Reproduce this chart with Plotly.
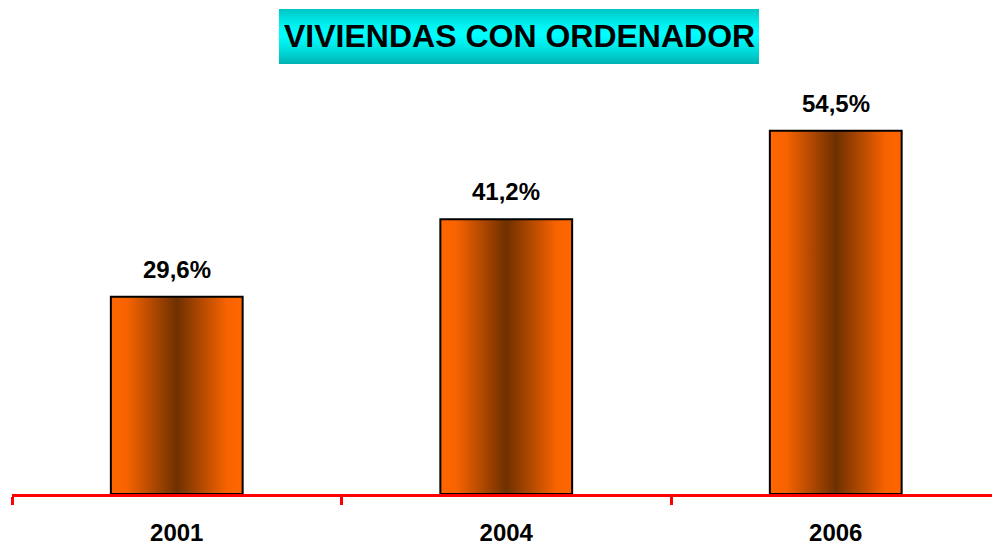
import plotly.graph_objects as go

# ---- data ----
years = ["2001", "2004", "2006"]
values = [29.6, 41.2, 54.5]
title_text = "VIVIENDAS CON ORDENADOR"

W, H = 992, 544
ML, MR, MT, MB = 12, 0, 94, 50
PW, PH = W - ML - MR, H - MT - MB
CAT_PX = 329.5
bar_w = 0.4
x_max = PW / CAT_PX - 0.5
FONT = "Liberation Sans, Arial, sans-serif"

bar_scale = [[0.0, "#FF6600"], [0.12, "#F86300"], [0.5, "#6E3000"],
             [0.88, "#F86300"], [1.0, "#FF6600"]]

fig = go.Figure()
for i, (yr, v) in enumerate(zip(years, values)):
    x0, x1 = i - bar_w / 2, i + bar_w / 2
    fig.add_trace(go.Scatter(
        x=[x0, x1, x1, x0, x0], y=[0, 0, v, v, 0],
        mode="lines", fill="toself",
        fillgradient=dict(type="horizontal", colorscale=bar_scale, start=x0, stop=x1),
        line=dict(color="black", width=2),
        hoverinfo="skip", showlegend=False))
    fig.add_annotation(x=i, y=v, text=f"{v:.1f}".replace(".", ",") + "%",
                       showarrow=False, yanchor="bottom", yshift=12,
                       font=dict(family=FONT, size=24, color="black", weight="bold"))

# title box with vertical cyan gradient (strips)
bx0, bx1, by0, by1 = 279, 759, 9, 64
n = by1 - by0
shapes = []
def px_x(p): return (p - ML) / PW
def px_y(p): return (H - MB - p) / PH
for k in range(n):
    t = (k + 0.5) / n
    d = abs(t - 0.45) / 0.55
    b = 1.0 - 0.30 * min(1.0, d) ** 1.3
    c = int(round(255 * b))
    shapes.append(dict(type="rect", xref="paper", yref="paper",
                       x0=px_x(bx0), x1=px_x(bx1), y0=px_y(by0 + k + 1), y1=px_y(by0 + k),
                       fillcolor=f"rgb(0,{c},{c})", line=dict(width=0), layer="below"))
fig.add_annotation(xref="paper", yref="paper", x=px_x((bx0 + bx1) / 2), y=px_y((by0 + by1) / 2),
                   text=title_text, showarrow=False, xanchor="center", yanchor="middle",
                   font=dict(family=FONT, size=32, color="black", weight="bold"))

fig.update_layout(
    width=W, height=H, margin=dict(l=ML, r=MR, t=MT, b=MB, autoexpand=False),
    paper_bgcolor="white", plot_bgcolor="white", shapes=shapes,
    showlegend=False,
    xaxis=dict(range=[-0.5, x_max], tickmode="array", tickvals=list(range(len(years))),
               ticktext=years, ticks="", showgrid=False, zeroline=False,
               showline=True, linecolor="#FF0000", linewidth=3, automargin=False,
               ticklabelstandoff=15,
               tickfont=dict(family=FONT, size=24, color="black", weight="bold"),
               minor=dict(tickmode="array", tickvals=[k - 0.5 for k in range(len(years) + 1)],
                          ticks="outside", ticklen=8, tickwidth=3, tickcolor="#FF0000",
                          showgrid=False)),
    yaxis=dict(range=[0, 60], visible=False, showgrid=False, zeroline=False, automargin=False),
)
fig.write_html("out.html", config={"displayModeBar": False},
               post_script="document.body.style.margin='0';document.body.style.overflow='hidden';")
